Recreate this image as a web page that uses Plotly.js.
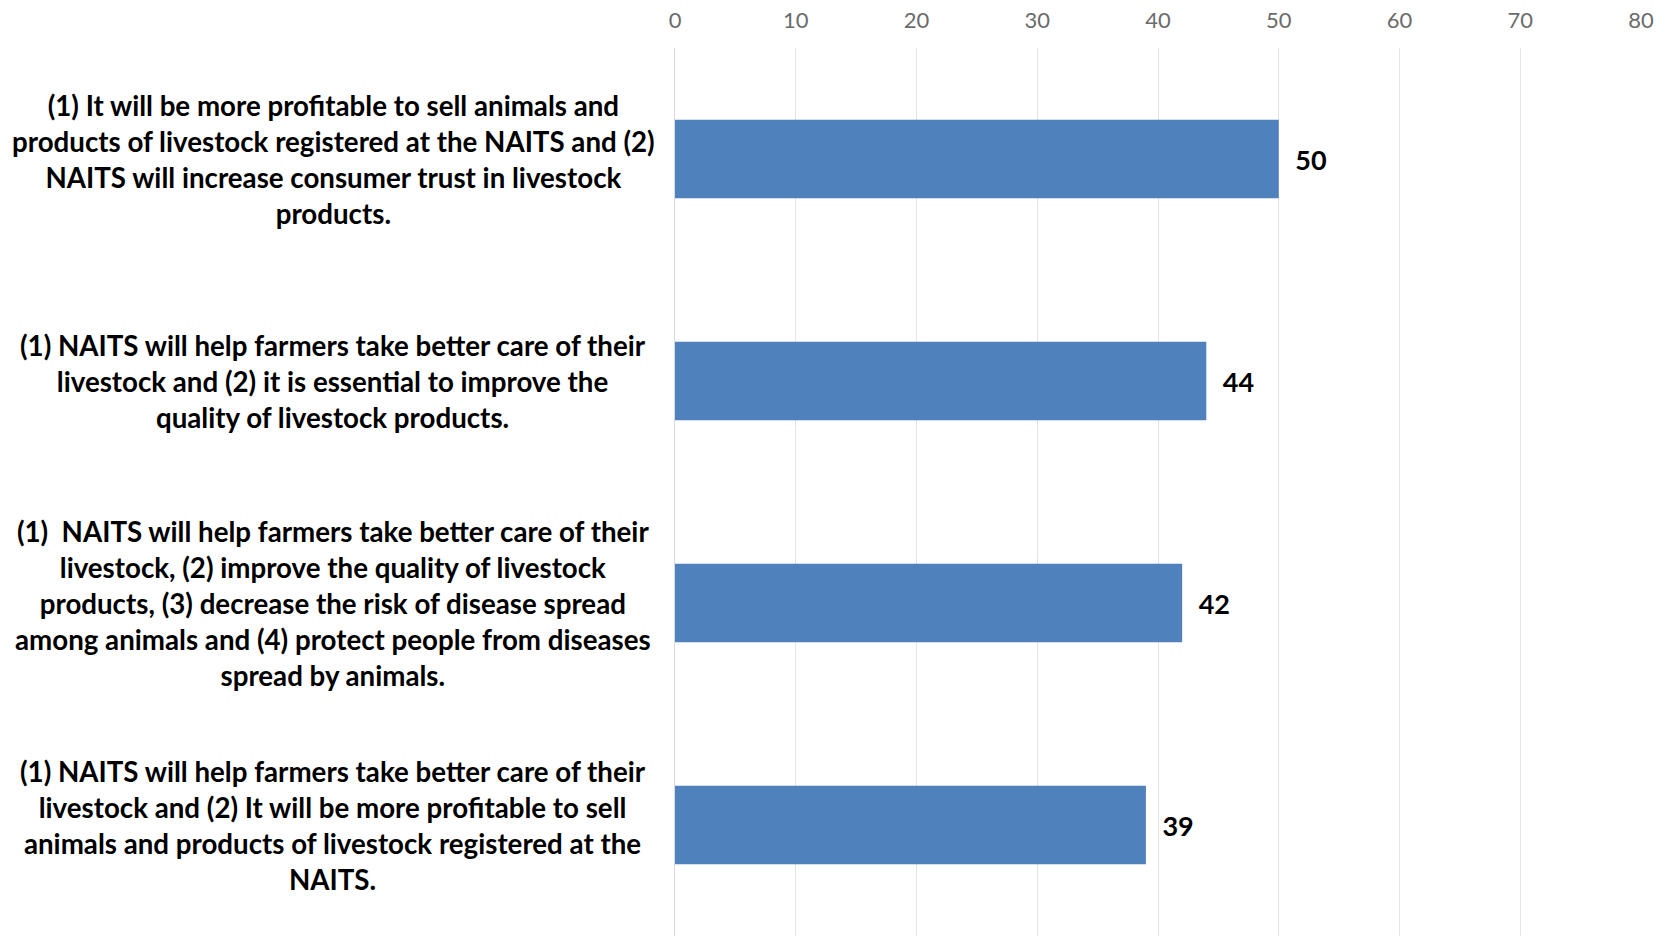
<!DOCTYPE html>
<html>
<head>
<meta charset="utf-8">
<script src="https://cdn.plot.ly/plotly-3.0.1.min.js"></script>
<style>
  html, body { margin: 0; padding: 0; background: #ffffff; }
  #chart { width: 1658px; height: 936px; }
</style>
</head>
<body>
<div id="chart"></div>
<script>
const categories = [
  "(1) It will be more profitable to sell animals and<br>products of livestock registered at the NAITS and (2)<br>NAITS will increase consumer trust in livestock<br>products.",
  "(1) NAITS will help farmers take better care of their<br>livestock and (2) it is essential to improve the<br>quality of livestock products.",
  "(1)  NAITS will help farmers take better care of their<br>livestock, (2) improve the quality of livestock<br>products, (3) decrease the risk of disease spread<br>among animals and (4) protect people from diseases<br>spread by animals.",
  "(1) NAITS will help farmers take better care of their<br>livestock and (2) It will be more profitable to sell<br>animals and products of livestock registered at the<br>NAITS."
];
const values = [50, 44, 42, 39];
const tickValues = [0, 10, 20, 30, 40, 50, 60, 70, 80];

const labelFont = "Lato, 'Open Sans', sans-serif";

const trace = {
  type: 'bar',
  orientation: 'h',
  x: values,
  y: categories,
  marker: { color: '#4F81BD' },
  text: values.map(v => '<b>\u2002' + v + '</b>'),
  textposition: 'outside',
  textfont: { family: labelFont, size: 27, color: '#000000' },
  cliponaxis: false,
  hoverinfo: 'none'
};

const annotations = categories.map(c => ({
  xref: 'paper', yref: 'y',
  x: -0.354, y: c,
  xanchor: 'center', yanchor: 'middle',
  align: 'center',
  showarrow: false,
  text: '<b>' + c + '</b>',
  font: { family: labelFont, size: 27.7, color: '#000000' }
}));

const layout = {
  width: 1658,
  height: 936,
  margin: { l: 675, r: 17, t: 48, b: 0 },
  paper_bgcolor: '#ffffff',
  plot_bgcolor: '#ffffff',
  showlegend: false,
  bargap: 0.646,
  xaxis: {
    side: 'top',
    range: [0, 80],
    tickvals: tickValues,
    ticktext: tickValues.map(String),
    showgrid: true,
    gridcolor: '#e3e3e3',
    gridwidth: 1,
    zeroline: false,
    showline: false,
    ticks: '',
    ticklabelstandoff: 15,
    tickfont: { family: labelFont, size: 22, color: '#6b6b6b' },
    fixedrange: true
  },
  yaxis: {
    type: 'category',
    autorange: 'reversed',
    showticklabels: false,
    showgrid: false,
    zeroline: false,
    showline: true,
    linecolor: '#d9d9d9',
    linewidth: 1,
    ticks: '',
    fixedrange: true
  },
  annotations: annotations
};

Plotly.newPlot('chart', [trace], layout, { displayModeBar: false, staticPlot: true });
</script>
</body>
</html>
